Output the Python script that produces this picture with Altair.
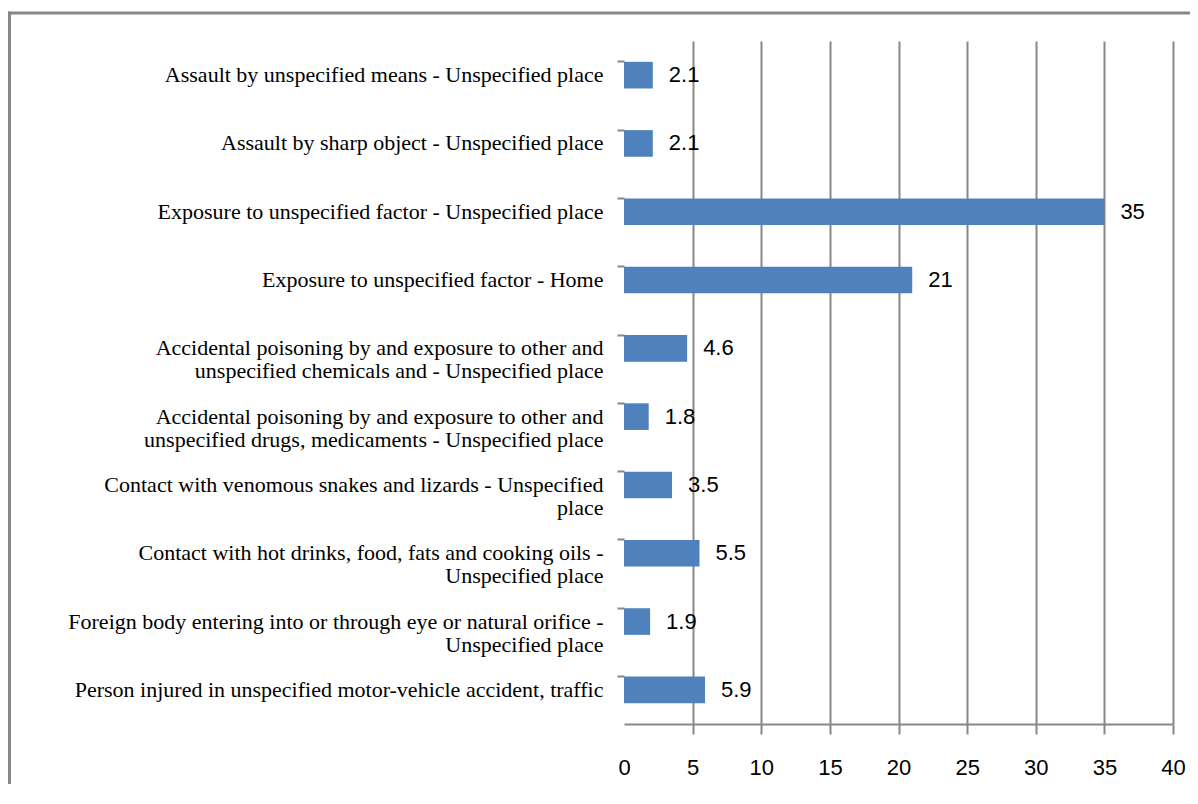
import altair as alt
import pandas as pd

categories = [
    "Assault by unspecified means - Unspecified place",
    "Assault by sharp object - Unspecified place",
    "Exposure to unspecified factor - Unspecified place",
    "Exposure to unspecified factor - Home",
    "Accidental poisoning by and exposure to other and|unspecified chemicals and - Unspecified place",
    "Accidental poisoning by and exposure to other and|unspecified drugs, medicaments - Unspecified place",
    "Contact with venomous snakes and lizards - Unspecified|place",
    "Contact with hot drinks, food, fats and cooking oils -|Unspecified place",
    "Foreign body entering into or through eye or natural orifice -|Unspecified place",
    "Person injured in unspecified motor-vehicle accident, traffic",
]
values = [2.1, 2.1, 35, 21, 4.6, 1.8, 3.5, 5.5, 1.9, 5.9]
labels = ["2.1", "2.1", "35", "21", "4.6", "1.8", "3.5", "5.5", "1.9", "5.9"]
x_ticks = [0, 5, 10, 15, 20, 25, 30, 35, 40]

df = pd.DataFrame({"cat": categories, "val": values, "lab": labels})

W, H = 549, 683
GRAY = "#878787"
BLUE = "#4F81BD"

x_scale = alt.Scale(domain=[0, 40], nice=False)
y_enc = alt.Y(
    "cat:N",
    sort=categories,
    title=None,
    scale=alt.Scale(paddingInner=0.61, paddingOuter=0.305),
    axis=alt.Axis(
        domain=False,
        ticks=True,
        tickSize=7,
        tickWidth=2,
        tickColor=GRAY,
        bandPosition=0,
        labelPadding=14,
        labelFont="Liberation Serif",
        labelFontSize=22,
        labelColor="black",
        labelAlign="right",
        labelLineHeight=23,
        labelLimit=0,
        labelExpr="split(datum.label, '|')",
        grid=False,
    ),
)

bars = alt.Chart(df).mark_bar(color=BLUE).encode(
    x=alt.X(
        "val:Q",
        scale=x_scale,
        title=None,
        axis=alt.Axis(
            values=x_ticks,
            grid=True,
            gridColor=GRAY,
            gridWidth=2,
            gridOpacity={"condition": {"test": "datum.value === 0", "value": 0}, "value": 1},
            domainColor=GRAY,
            domainWidth=2,
            tickColor=GRAY,
            tickWidth=2,
            tickSize=10,
            tickOpacity={"condition": {"test": "datum.value === 0", "value": 0}, "value": 1},
            labelFont="Liberation Sans",
            labelFontSize=22,
            labelColor="black",
            labelPadding=23,
            labelFlush=False,
        ),
    ),
    y=y_enc,
)

text = alt.Chart(df).mark_text(
    align="left", baseline="middle", dx=16, font="Liberation Sans", fontSize=22, color="black"
).encode(
    x=alt.X("val:Q", scale=x_scale),
    y=alt.Y("cat:N", sort=categories),
    text="lab:N",
)

frame_top = alt.Chart(df.head(1)).mark_rule(color=GRAY, strokeWidth=3).encode(
    x=alt.value(-616), x2=alt.value(W + 20), y=alt.value(-28)
)
frame_left = alt.Chart(df.head(1)).mark_rule(color=GRAY, strokeWidth=3).encode(
    x=alt.value(-614.5), y=alt.value(-29.5), y2=alt.value(H + 70)
)

chart = (
    alt.layer(bars, text, frame_top, frame_left)
    .properties(
        width=W,
        height=H,
        autosize=alt.AutoSizeParams(type="none"),
        padding={"left": 616, "top": 33, "right": 17, "bottom": 60},
    )
    .configure_view(stroke=None)
)

chart.save("out.html", embed_options={"renderer": "svg", "actions": False})
